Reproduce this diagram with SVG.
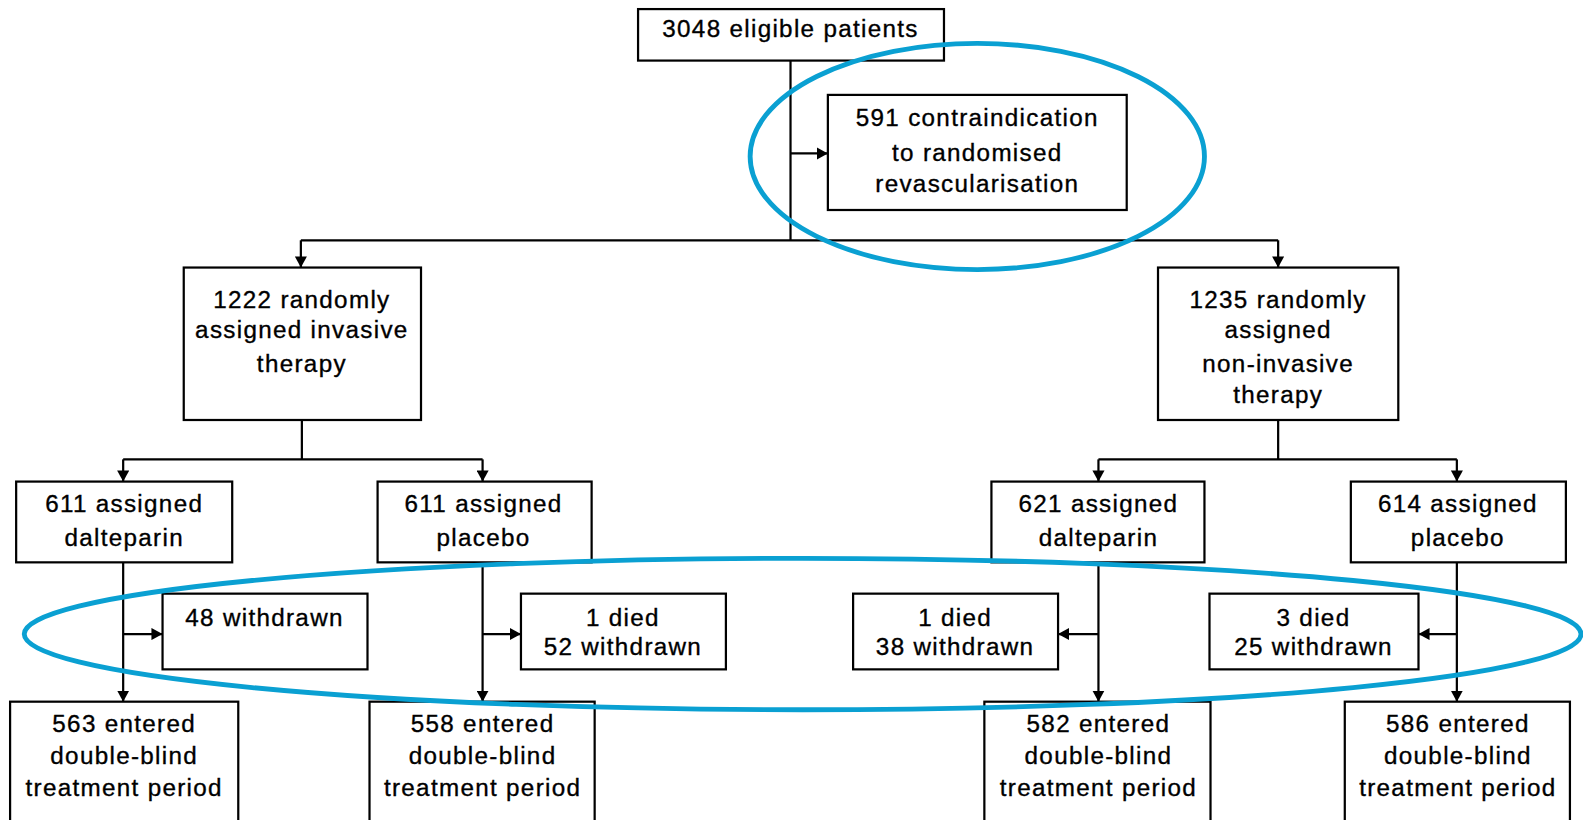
<svg xmlns="http://www.w3.org/2000/svg" width="1583" height="820" viewBox="0 0 1583 820">
<style>
.box{fill:#fff;stroke:#000;stroke-width:2.2}
.t{font-family:"Liberation Sans",Arial,sans-serif;font-size:24px;fill:#000;stroke:#000;stroke-width:0.35;text-anchor:middle;letter-spacing:1.3px}
.c{fill:none;stroke:#000;stroke-width:2.2}
.hl{fill:none;stroke:#0aa0d2;stroke-width:4.8}
</style>
<defs>
<marker id="ah" markerUnits="userSpaceOnUse" markerWidth="12" markerHeight="12" refX="11" refY="6" orient="auto">
<path d="M0,0 L11,6 L0,12 z" fill="#000"/>
</marker>
</defs>
<rect width="1583" height="820" fill="#fff"/>
<g transform="scale(1.0096)">
<g id="connectors">
<path class="c" d="M783,60 V238"/>
<path class="c" d="M783,152 H820" marker-end="url(#ah)"/>
<path class="c" d="M298,238 H1266"/>
<path class="c" d="M298,238 V265" marker-end="url(#ah)"/>
<path class="c" d="M1266,238 V265" marker-end="url(#ah)"/>
<path class="c" d="M299,416 V455 M122,455 H478"/>
<path class="c" d="M122,455 V477" marker-end="url(#ah)"/>
<path class="c" d="M478,455 V477" marker-end="url(#ah)"/>
<path class="c" d="M1266,416 V455 M1088,455 H1443"/>
<path class="c" d="M1088,455 V477" marker-end="url(#ah)"/>
<path class="c" d="M1443,455 V477" marker-end="url(#ah)"/>
<path class="c" d="M122,557 V695" marker-end="url(#ah)"/>
<path class="c" d="M122,628 H161" marker-end="url(#ah)"/>
<path class="c" d="M478,557 V695" marker-end="url(#ah)"/>
<path class="c" d="M478,628 H516" marker-end="url(#ah)"/>
<path class="c" d="M1088,557 V695" marker-end="url(#ah)"/>
<path class="c" d="M1088,628 H1048" marker-end="url(#ah)"/>
<path class="c" d="M1443,557 V695" marker-end="url(#ah)"/>
<path class="c" d="M1443,628 H1405" marker-end="url(#ah)"/>
</g>
<g id="eligible"><rect class="box" x="632" y="9" width="303" height="51"/><text class="t" x="783" y="37">3048 eligible patients</text></g>
<g id="contra"><rect class="box" x="820" y="94" width="296" height="114"/>
<text class="t" x="968" y="125">591 contraindication</text><text class="t" x="968" y="159">to randomised</text><text class="t" x="968" y="190">revascularisation</text></g>
<g id="invasive"><rect class="box" x="182" y="265" width="235" height="151"/>
<text class="t" x="299" y="305">1222 randomly</text><text class="t" x="299" y="335">assigned invasive</text><text class="t" x="299" y="368">therapy</text></g>
<g id="noninvasive"><rect class="box" x="1147" y="265" width="238" height="151"/>
<text class="t" x="1266" y="305">1235 randomly</text><text class="t" x="1266" y="335">assigned</text><text class="t" x="1266" y="368">non-invasive</text><text class="t" x="1266" y="399">therapy</text></g>
<g id="inv-dal"><rect class="box" x="16" y="477" width="214" height="80"/>
<text class="t" x="123" y="507">611 assigned</text><text class="t" x="123" y="541">dalteparin</text></g>
<g id="inv-pla"><rect class="box" x="374" y="477" width="212" height="80"/>
<text class="t" x="479" y="507">611 assigned</text><text class="t" x="479" y="541">placebo</text></g>
<g id="non-dal"><rect class="box" x="982" y="477" width="211" height="80"/>
<text class="t" x="1088" y="507">621 assigned</text><text class="t" x="1088" y="541">dalteparin</text></g>
<g id="non-pla"><rect class="box" x="1338" y="477" width="213" height="80"/>
<text class="t" x="1444" y="507">614 assigned</text><text class="t" x="1444" y="541">placebo</text></g>
<g id="w1"><rect class="box" x="161" y="588" width="203" height="75"/>
<text class="t" x="262" y="620">48 withdrawn</text></g>
<g id="w2"><rect class="box" x="516" y="588" width="203" height="75"/>
<text class="t" x="617" y="620">1 died</text><text class="t" x="617" y="649">52 withdrawn</text></g>
<g id="w3"><rect class="box" x="845" y="588" width="203" height="75"/>
<text class="t" x="946" y="620">1 died</text><text class="t" x="946" y="649">38 withdrawn</text></g>
<g id="w4"><rect class="box" x="1198" y="588" width="207" height="75"/>
<text class="t" x="1301" y="620">3 died</text><text class="t" x="1301" y="649">25 withdrawn</text></g>
<g id="e1"><rect class="box" x="10" y="695" width="226" height="140"/>
<text class="t" x="123" y="725">563 entered</text><text class="t" x="123" y="757">double-blind</text><text class="t" x="123" y="788">treatment period</text></g>
<g id="e2"><rect class="box" x="366" y="695" width="223" height="140"/>
<text class="t" x="478" y="725">558 entered</text><text class="t" x="478" y="757">double-blind</text><text class="t" x="478" y="788">treatment period</text></g>
<g id="e3"><rect class="box" x="975" y="695" width="224" height="140"/>
<text class="t" x="1088" y="725">582 entered</text><text class="t" x="1088" y="757">double-blind</text><text class="t" x="1088" y="788">treatment period</text></g>
<g id="e4"><rect class="box" x="1332" y="695" width="223" height="140"/>
<text class="t" x="1444" y="725">586 entered</text><text class="t" x="1444" y="757">double-blind</text><text class="t" x="1444" y="788">treatment period</text></g>
<g id="highlights">
<ellipse class="hl" cx="968" cy="155" rx="225" ry="112"/>
<ellipse class="hl" cx="795" cy="628" rx="771" ry="75"/>
</g>
</g>
</svg>
